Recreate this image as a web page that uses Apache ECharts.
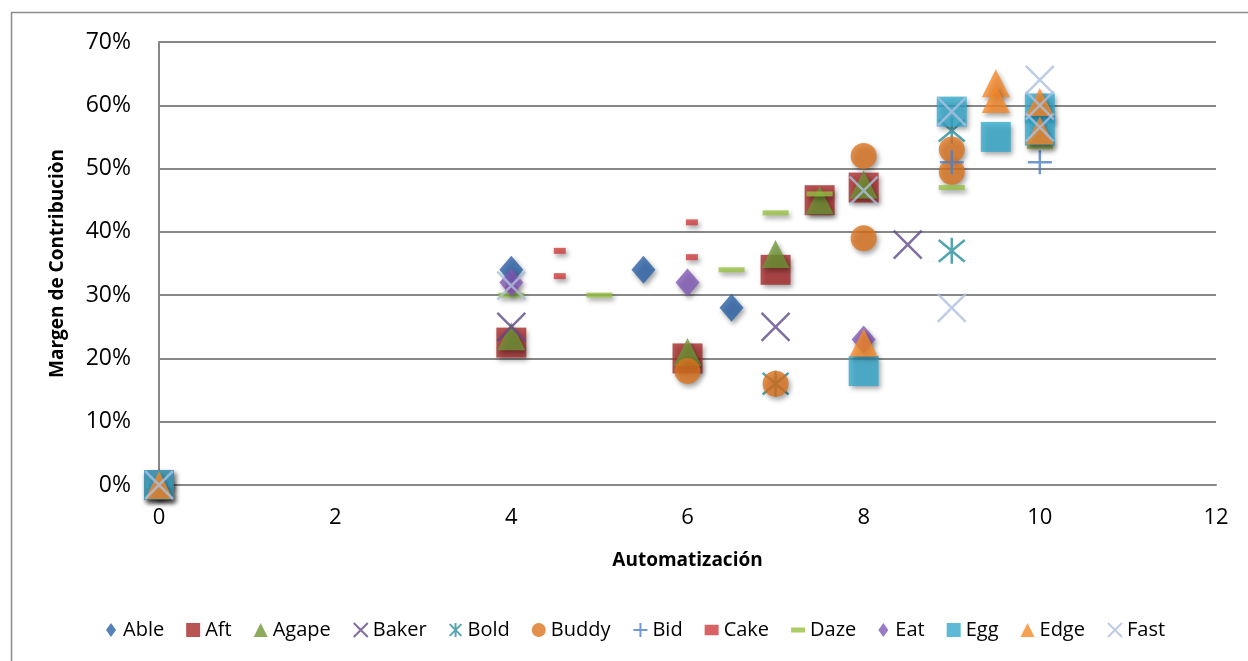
<!DOCTYPE html>
<html><head><meta charset="utf-8">
<script src="https://cdn.jsdelivr.net/npm/echarts@6/dist/echarts.min.js"></script>
<style>html,body{margin:0;padding:0;background:#fff}#c{width:1248px;height:661px}</style>
</head><body><div id="c"></div>
<script>
const seriesNames = ['Able','Aft','Agape','Baker','Bold','Buddy','Bid','Cake','Daze','Eat','Egg','Edge','Fast'];
const Able  = [[0,0],[4,34],[5.5,34],[6.5,28]];
const Aft   = [[0,0],[4,22.5],[6,20],[7,34],[7.5,45],[8,47]];
const Agape = [[0,0],[4,23.5],[6,21],[7,36.5],[7.5,45],[8,47.5]];
const Baker = [[0,0],[4,25],[7,25],[8.5,38]];
const Bold  = [[0,0],[7,16],[9,56],[9,37]];
const Buddy = [[0,0],[6,18],[7,16],[8,52],[8,39],[9,53],[9,49.5]];
const Bid   = [[0,0],[9,51],[10,51]];
const Cake  = [[0,0],[4,31],[4.55,37],[4.55,33],[6.05,41.5],[6.05,36]];
const Daze  = [[0,0],[4,30],[5,30],[6.5,34],[7,43],[7.5,46],[9,47],[10,53.5]];
const Eat   = [[0,0],[4,32],[6,32],[8,23]];
const Egg   = [[0,0],[8,18],[9,59],[9.5,55],[10,59.5],[10,56]];
const Edge  = [[0,0],[8,22.5],[9.5,63.5],[9.5,61],[10,60.5],[10,56]];
const Fast  = [[0,0],[4,31.5],[8,46.5],[9,59],[9,28],[10,64],[10,60],[10,56.5]];
const xTicks = [0,2,4,6,8,10,12];
const yTicks = [0,10,20,30,40,50,60,70];

const dataSets = [Able,Aft,Agape,Baker,Bold,Buddy,Bid,Cake,Daze,Eat,Egg,Edge,Fast];
const colors = ['#2d62a8','#a8292b','#6f9636','#5f4a8a','#2a8e9c','#dc7420','#4e7fc4','#d03c3c','#96c142','#8157b6','#33a9cd','#f68a2a','#adc0e0'];
const XP = 'path://M0,0L10,10M10,0L0,10';
const AST = 'path://M0,0L10,10M10,0L0,10M5,-1L5,11';
const PLUS = 'path://M5,0L5,10M0,5L10,5';
const symbols = ['diamond','rect','triangle',XP,AST,'circle',PLUS,'rect','rect','diamond','rect','triangle',XP];
const sizes = [[24,28],[30,30],[28,28],[28,28],[26,26],[26,26],[24,24],[12,6],[26,5],[24,28],[30,30],[28,28],[28,28]];
const lineSym = [false,false,false,true,true,false,true,false,false,false,false,false,true];
const legendIcons = ['path://M5,0L10,7L5,14L0,7Z','rect','triangle',XP,AST,'circle',PLUS,
  'path://M0,0h8v6h-8z','path://M0,0h14v5h-14z','path://M5,0L10,7L5,14L0,7Z','rect','triangle',XP];

const series = seriesNames.map((n,i)=>({
  name:n, type:'scatter', data:dataSets[i], symbol:symbols[i], symbolSize:sizes[i],
  itemStyle: lineSym[i] ? {color:'rgba(0,0,0,0)', borderColor:colors[i], borderWidth:2.5}
    : {color:colors[i], shadowBlur:5, shadowColor:'rgba(0,0,0,0.45)', shadowOffsetX:2, shadowOffsetY:3},
  emphasis:{disabled:true}
}));

const chart = echarts.init(document.getElementById('c'));
chart.setOption({
  animation:false,
  textStyle:{fontFamily:'Open Sans'},
  graphic:[{type:'rect', shape:{x:11.5,y:12.5,width:1300,height:700}, style:{fill:'none',stroke:'#8c8c8c',lineWidth:1.5}, silent:true, z:-10}],
  grid:{left:159, top:42, right:32, bottom:176},
  xAxis:{type:'value', min:0, max:12, interval:2,
    axisLine:{show:true,lineStyle:{color:'#888',width:2}}, axisTick:{show:false},
    splitLine:{show:false},
    axisLabel:{color:'#000',fontSize:22,margin:22,formatter:v=>xTicks.includes(v)?String(v):''},
    name:'Automatización', nameLocation:'middle', nameGap:66,
    nameTextStyle:{fontWeight:'bold',fontSize:19,color:'#000'}},
  yAxis:{type:'value', min:0, max:70, interval:10,
    axisLine:{show:true,lineStyle:{color:'#888',width:2}}, axisTick:{show:false},
    splitLine:{show:true,lineStyle:{color:'#888',width:2}},
    axisLabel:{color:'#000',fontSize:23,margin:28,formatter:v=>yTicks.includes(v)?v+'%':''},
    name:'Margen de Contribuciòn', nameLocation:'middle', nameGap:92,
    nameTextStyle:{fontWeight:'bold',fontSize:19,color:'#000'}},
  legend:{data:seriesNames.map((n,i)=>({name:n, icon:legendIcons[i]})), top:620, left:106, itemGap:22, itemWidth:14, itemHeight:14,
    textStyle:{fontSize:20,color:'#000'}, padding:0},
  series
});
</script></body></html>
